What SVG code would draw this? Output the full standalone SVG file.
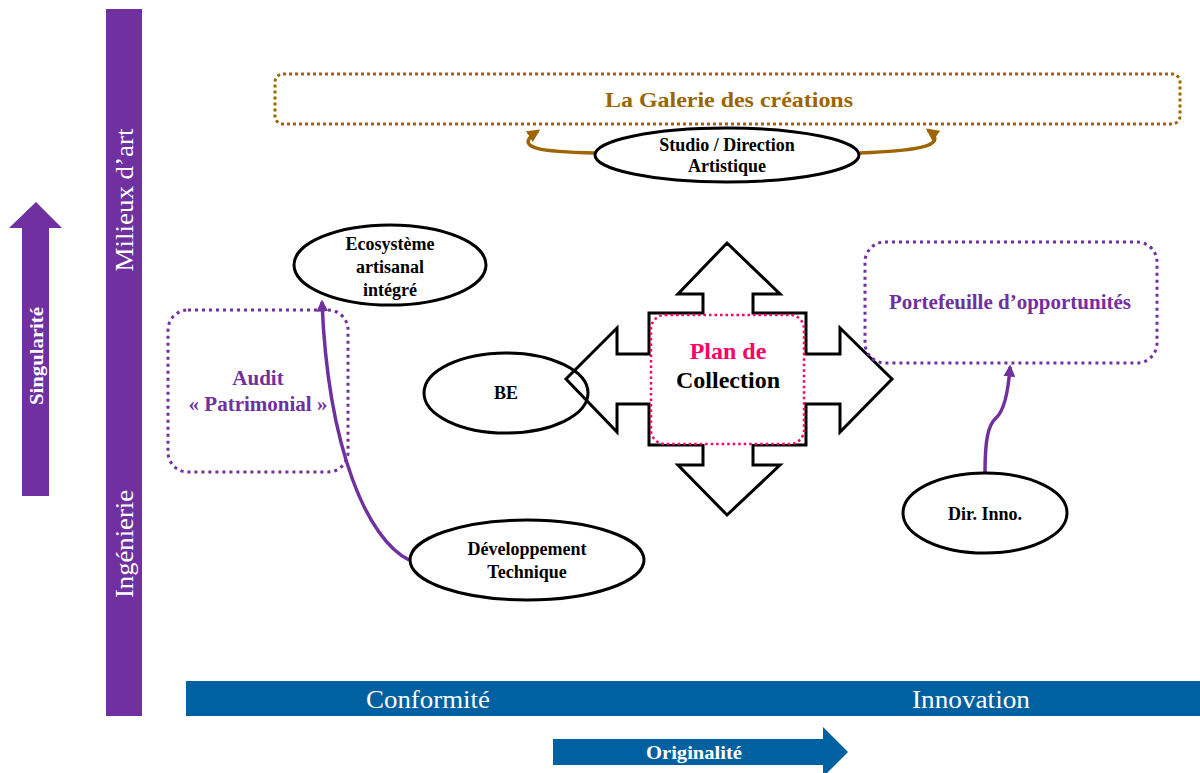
<svg xmlns="http://www.w3.org/2000/svg" width="1200" height="773" viewBox="0 0 1200 773">
<style>
.lbl{font-family:"Liberation Serif","Times New Roman",serif;font-weight:bold;font-size:18px;fill:#000;text-anchor:middle}
.pur{font-family:"Liberation Serif","Times New Roman",serif;font-weight:bold;font-size:21px;fill:#7030A0;text-anchor:middle}
.axis{font-family:"Liberation Serif","Times New Roman",serif;font-size:26px;fill:#fff;text-anchor:middle}
.ax2{font-family:"Liberation Serif","Times New Roman",serif;font-weight:bold;fill:#fff;text-anchor:middle}
.node{fill:#fff;stroke:#000;stroke-width:3}
.dotp{fill:none;stroke:#7030A0;stroke-width:3;stroke-dasharray:3 4}
.conp{fill:none;stroke:#7030A0;stroke-width:3.5}
.conb{fill:none;stroke:#9C6500;stroke-width:3.5}
</style>
<defs>
<marker id="ap" viewBox="0 0 10 10" refX="8" refY="5" markerWidth="12" markerHeight="12" markerUnits="userSpaceOnUse" orient="auto">
<path d="M0,0 L10,5 L0,10 Z" fill="#7030A0"/>
</marker>
<marker id="ab" viewBox="0 0 10 10" refX="8" refY="5" markerWidth="13" markerHeight="13" markerUnits="userSpaceOnUse" orient="auto">
<path d="M0,0 L10,5 L0,10 Z" fill="#9C6500"/>
</marker>
</defs>

<g id="axis-vertical">
<rect x="106" y="9" width="36" height="707" fill="#7030A0"/>
<text class="axis" transform="translate(133,200) rotate(-90)" font-size="27" textLength="143" lengthAdjust="spacingAndGlyphs">Milieux d’art</text>
<text class="axis" transform="translate(133,544) rotate(-90)" font-size="27" textLength="108" lengthAdjust="spacingAndGlyphs">Ingénierie</text>
</g>

<g id="arrow-singularite">
<polygon points="36,202 62,228 49,228 49,496 22,496 22,228 9,228" fill="#7030A0"/>
<text class="ax2" transform="translate(43,356) rotate(-90)" font-size="18" textLength="98" lengthAdjust="spacingAndGlyphs">Singularité</text>
</g>

<g id="axis-horizontal">
<rect x="186" y="681" width="1014" height="35" fill="#0060A0"/>
<text class="axis" x="428" y="708" textLength="124" lengthAdjust="spacingAndGlyphs">Conformité</text>
<text class="axis" x="971" y="708" textLength="118" lengthAdjust="spacingAndGlyphs">Innovation</text>
</g>

<g id="arrow-originalite">
<polygon points="553,739 823,739 823,727 848,752 823,777 823,765 553,765" fill="#0060A0"/>
<text class="ax2" x="694" y="759" font-size="19" textLength="96" lengthAdjust="spacingAndGlyphs">Originalité</text>
</g>

<g id="galerie">
<rect x="275" y="74" width="905" height="50" rx="8" fill="none" stroke="#9C6500" stroke-width="3" stroke-dasharray="3 3"/>
<text x="729" y="107" font-family="Liberation Serif, Times New Roman, serif" font-weight="bold" font-size="22" fill="#9C6500" text-anchor="middle" textLength="248" lengthAdjust="spacingAndGlyphs">La Galerie des créations</text>
</g>

<g id="connectors">
<path class="conb" d="M595,153 C545,152 510,149 538,131" marker-end="url(#ab)"/>
<path class="conb" d="M860,153 C910,151 952,147 928,130" marker-end="url(#ab)"/>
<path class="conp" d="M409,560 C368,540 328,450 322,302" marker-end="url(#ap)"/>
<path class="conp" d="M985,473 C985,440 988,425 996,418 C1004,411 1008,395 1010,367" marker-end="url(#ap)"/>
</g>

<g id="studio">
<ellipse class="node" cx="727" cy="155" rx="132" ry="27"/>
<text class="lbl" x="727" y="151">Studio / Direction</text>
<text class="lbl" x="727" y="172">Artistique</text>
</g>

<g id="ecosysteme">
<ellipse class="node" cx="390" cy="265" rx="96" ry="40"/>
<text class="lbl" x="390" y="250">Ecosystème</text>
<text class="lbl" x="390" y="273">artisanal</text>
<text class="lbl" x="390" y="296">intégré</text>
</g>

<g id="audit">
<rect class="dotp" x="168" y="310" width="180" height="162" rx="20"/>
<text class="pur" x="258" y="385">Audit</text>
<text class="pur" x="258" y="411">« Patrimonial »</text>
</g>

<g id="plan-collection">
<polygon points="727,243 780,294 753,294 753,313 806,313 806,354 840,354 840,328 892,379 840,432 840,404 806,404 806,445 753,445 753,465 780,465 727,515 678,465 703,465 703,445 649,445 649,404 617,404 617,432 566,379 617,328 617,354 649,354 649,313 703,313 703,294 678,294" fill="#fff" stroke="#000" stroke-width="3" stroke-linejoin="miter"/>
<rect x="651" y="315" width="153" height="129" rx="14" fill="#fff" stroke="#FF0066" stroke-width="2.5" stroke-dasharray="2.5 3"/>
<text x="728" y="359" font-family="Liberation Serif, Times New Roman, serif" font-weight="bold" font-size="24" fill="#FF0066" text-anchor="middle">Plan de</text>
<text x="728" y="388" font-family="Liberation Serif, Times New Roman, serif" font-weight="bold" font-size="24" fill="#000" text-anchor="middle">Collection</text>
</g>

<g id="be">
<ellipse cx="506" cy="393" rx="82" ry="40" fill="none" stroke="#000" stroke-width="3"/>
<text class="lbl" x="506" y="399">BE</text>
</g>

<g id="developpement">
<ellipse class="node" cx="527" cy="560" rx="117" ry="40"/>
<text class="lbl" x="527" y="555">Développement</text>
<text class="lbl" x="527" y="578">Technique</text>
</g>

<g id="portefeuille">
<rect class="dotp" x="865" y="242" width="292" height="121" rx="20"/>
<text class="pur" x="1010" y="309">Portefeuille d’opportunités</text>
</g>

<g id="dir-inno">
<ellipse class="node" cx="985" cy="513" rx="82" ry="40"/>
<text class="lbl" x="985" y="520">Dir. Inno.</text>
</g>
</svg>
